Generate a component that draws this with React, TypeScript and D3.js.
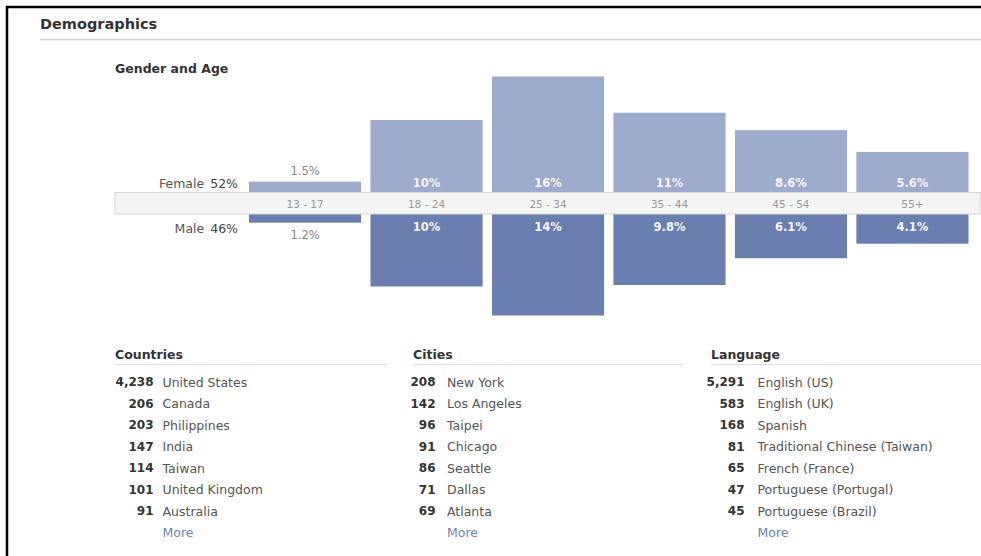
import React, { useEffect } from "react";
import * as d3 from "d3";

const ageGroups = ["13 - 17", "18 - 24", "25 - 34", "35 - 44", "45 - 54", "55+"];
const femaleValues = [1.5, 10, 16, 11, 8.6, 5.6];
const maleValues = [1.2, 10, 14, 9.8, 6.1, 4.1];
const femaleLabels = ["1.5%", "10%", "16%", "11%", "8.6%", "5.6%"];
const maleLabels = ["1.2%", "10%", "14%", "9.8%", "6.1%", "4.1%"];
const femaleTotal = "52%";
const maleTotal = "46%";

const countryCounts = ["4,238", "206", "203", "147", "114", "101", "91"];
const countryNames = ["United States", "Canada", "Philippines", "India", "Taiwan", "United Kingdom", "Australia"];
const cityCounts = ["208", "142", "96", "91", "86", "71", "69"];
const cityNames = ["New York", "Los Angeles", "Taipei", "Chicago", "Seattle", "Dallas", "Atlanta"];
const languageCounts = ["5,291", "583", "168", "81", "65", "47", "45"];
const languageNames = [
  "English (US)",
  "English (UK)",
  "Spanish",
  "Traditional Chinese (Taiwan)",
  "French (France)",
  "Portuguese (Portugal)",
  "Portuguese (Brazil)",
];

const W = 981;
const H = 556;
const FONT = "'DejaVu Sans', Verdana, sans-serif";
const FEMALE_COLOR = "#9dabcc";
const MALE_COLOR = "#6b7eb0";

export default function App() {
  useEffect(() => {
    document.body.style.margin = "0";
  }, []);

  const x = d3.scaleBand<string>().domain(ageGroups).range([249, 968.5]).paddingInner(0.077).paddingOuter(0);
  const h = d3.scaleLinear().domain([0, 16]).range([0, 116]);
  const bandTop = 192.5;
  const bandBottom = 214;

  const tables = [
    { title: "Countries", counts: countryCounts, names: countryNames, hx: 115, numRight: 153.5, nameX: 162.5, lineEnd: 387 },
    { title: "Cities", counts: cityCounts, names: cityNames, hx: 413, numRight: 435.5, nameX: 447, lineEnd: 683 },
    { title: "Language", counts: languageCounts, names: languageNames, hx: 711, numRight: 744.5, nameX: 757.5, lineEnd: 981 },
  ];
  const rowY = d3.scaleLinear().domain([0, 1]).range([382, 403.5]);

  return (
    <svg width={W} height={H} style={{ display: "block", background: "#fff" }} fontFamily={FONT}>
      <rect x={0} y={0} width={W} height={H} fill="#fff" />
      {/* frame */}
      <line x1={6} x2={W} y1={7} y2={7} stroke="#000" strokeWidth={2.5} />
      <line x1={7} x2={7} y1={6} y2={H} stroke="#000" strokeWidth={2.5} />

      {/* title */}
      <text x={40} y={24} dominantBaseline="central" fontSize={14.5} fontWeight="bold" fill="#333">
        Demographics
      </text>
      <line x1={40} x2={W} y1={39.5} y2={39.5} stroke="#cfcfcf" strokeWidth={1.5} />
      <text x={115} y={68} dominantBaseline="central" fontSize={12.5} fontWeight="bold" fill="#333">
        Gender and Age
      </text>

      {/* bars */}
      {ageGroups.map((g, i) => {
        const fh = h(femaleValues[i]);
        const mh = h(maleValues[i]);
        const bx = x(g)!;
        const bw = x.bandwidth();
        return (
          <g key={g}>
            <rect x={bx} y={bandTop - fh} width={bw} height={fh} fill={FEMALE_COLOR} />
            <rect x={bx} y={bandBottom} width={bw} height={mh} fill={MALE_COLOR} />
          </g>
        );
      })}

      {/* age band */}
      <rect x={115} y={bandTop} width={W - 115 - 1} height={bandBottom - bandTop} fill="#f5f5f5" stroke="#d6d6d6" strokeWidth={1} />

      {ageGroups.map((g, i) => {
        const fh = h(femaleValues[i]);
        const mh = h(maleValues[i]);
        const cx = x(g)! + x.bandwidth() / 2;
        const fInside = fh >= 20;
        const mInside = mh >= 20;
        return (
          <g key={"l" + g} textAnchor="middle">
            <text x={cx} y={(bandTop + bandBottom) / 2 + 0.5} dominantBaseline="central" fontSize={10.5} fill="#9a9a9a">
              {g}
            </text>
            <text
              x={cx}
              y={fInside ? bandTop - 10 : bandTop - fh - 10.5}
              dominantBaseline="central"
              fontSize={11.5}
              fontWeight={fInside ? "bold" : "normal"}
              fill={fInside ? "#f4f6fb" : "#888"}
            >
              {femaleLabels[i]}
            </text>
            <text
              x={cx}
              y={mInside ? bandBottom + 13 : bandBottom + mh + 12}
              dominantBaseline="central"
              fontSize={11.5}
              fontWeight={mInside ? "bold" : "normal"}
              fill={mInside ? "#f4f6fb" : "#888"}
            >
              {maleLabels[i]}
            </text>
          </g>
        );
      })}

      {/* gender labels */}
      <text x={238} y={183} dominantBaseline="central" textAnchor="end" fontSize={12.5} fill="#555">
        Female<tspan dx={6} fill="#444">{femaleTotal}</tspan>
      </text>
      <text x={238} y={228} dominantBaseline="central" textAnchor="end" fontSize={12.5} fill="#555">
        Male<tspan dx={6} fill="#444">{maleTotal}</tspan>
      </text>

      {/* tables */}
      {tables.map((t) => (
        <g key={t.title}>
          <text x={t.hx} y={354} dominantBaseline="central" fontSize={12.5} fontWeight="bold" fill="#333">
            {t.title}
          </text>
          <line x1={t.hx} x2={t.lineEnd} y1={364.5} y2={364.5} stroke="#e0e0e0" strokeWidth={1} />
          {t.counts.map((c, i) => (
            <g key={i}>
              <text x={t.numRight} y={rowY(i)} dominantBaseline="central" textAnchor="end" fontSize={12} fontWeight="bold" fill="#333">
                {c}
              </text>
              <text x={t.nameX} y={rowY(i)} dominantBaseline="central" fontSize={12.5} fill="#555">
                {t.names[i]}
              </text>
            </g>
          ))}
          <text x={t.nameX} y={rowY(t.counts.length)} dominantBaseline="central" fontSize={12.5} fill="#6e82b3">
            More
          </text>
        </g>
      ))}
    </svg>
  );
}
